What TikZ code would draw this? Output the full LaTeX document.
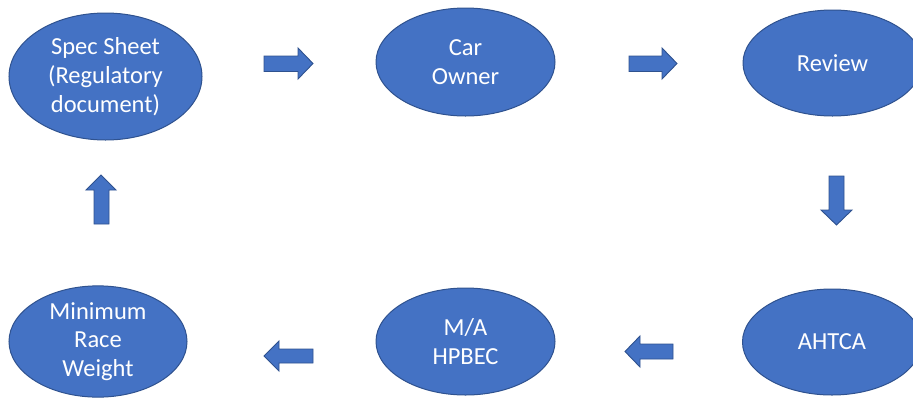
\documentclass[tikz,border=0pt]{standalone}
\usepackage{fontspec}
\setmainfont{Carlito}
\usetikzlibrary{shapes.geometric}
\definecolor{ofill}{HTML}{4472C4}
\definecolor{oline}{HTML}{2F528F}
\begin{document}
\begin{tikzpicture}[x=1pt,y=-1pt,
  oval/.style={ellipse,draw=oline,line width=1pt,fill=ofill,text=white,
    align=center,inner sep=0pt,font=\fontsize{24.5}{28.8}\selectfont},
  barrow/.style={draw=oline,line width=0.9pt,fill=ofill,line join=miter}]
\useasboundingbox (0,0) rectangle (913,397);
\node[oval,minimum width=193,minimum height=127] (spec) at (105.5,76.5) {Spec Sheet\\(Regulatory\\document)};
\node[oval,minimum width=179,minimum height=108] (car) at (465.5,62) {Car\\Owner};
\node[oval,minimum width=179,minimum height=106] (rev) at (832.5,63) {Review};
\node[oval,minimum width=178,minimum height=105] (mrw) at (98,341.5) {Minimum\\Race\\Weight};
\node[oval,minimum width=179,minimum height=107] (ma) at (465.5,341.5) {M/A\\HPBEC};
\node[oval,minimum width=179,minimum height=106] (ahtca) at (832,342) {AHTCA};
% block arrows
\draw[barrow] (264,56) -- (298,56) -- (298,48) -- (313,63.5) -- (298,79) -- (298,71.5) -- (264,71.5) -- cycle;
\draw[barrow] (629,56) -- (662,56) -- (662,48) -- (677,63.5) -- (662,79) -- (662,71.5) -- (629,71.5) -- cycle;
\draw[barrow] (829,176) -- (844,176) -- (844,210) -- (852,210) -- (836.5,225) -- (821,210) -- (829,210) -- cycle;
\draw[barrow] (94,224) -- (94,190) -- (86,190) -- (101,175) -- (116,190) -- (109,190) -- (109,224) -- cycle;
\draw[barrow] (313,349) -- (279,349) -- (279,341) -- (264,356) -- (279,371) -- (279,363) -- (313,363) -- cycle;
\draw[barrow] (673,344) -- (640,344) -- (640,336) -- (625,351.5) -- (640,367) -- (640,359) -- (673,359) -- cycle;
\end{tikzpicture}
\end{document}
